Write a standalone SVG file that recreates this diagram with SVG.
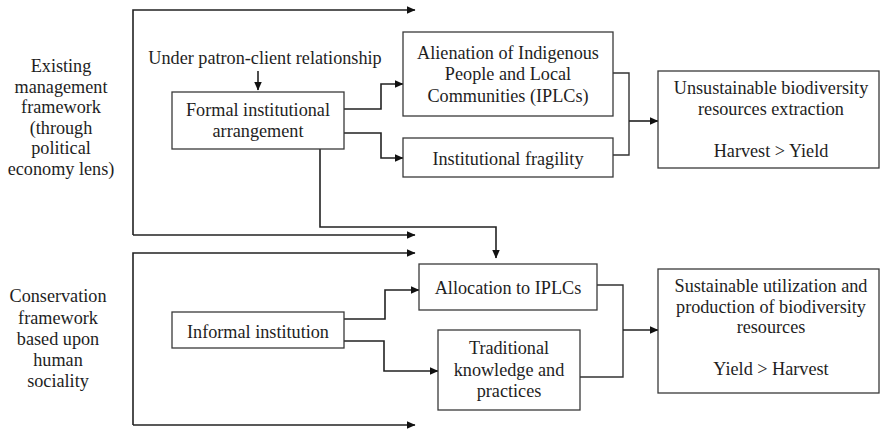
<svg xmlns="http://www.w3.org/2000/svg" width="880" height="431" viewBox="0 0 880 431">
<style>
text{font-family:'Liberation Serif','Times New Roman',serif;font-size:18.2px;fill:#1e1e1e;text-anchor:middle}
.box{fill:#fff;stroke:#3a3a3a;stroke-width:1.3}
.ln{fill:none;stroke:#333;stroke-width:1.4}
.ar{fill:none;stroke:#222;stroke-width:1.6;marker-end:url(#ah)}
</style>
<defs>
<marker id="ah" markerWidth="9" markerHeight="8" refX="8.5" refY="4" orient="auto" markerUnits="userSpaceOnUse">
<path d="M0,0 L9,4 L0,8 Z" fill="#111"/>
</marker>
</defs>
<g id="connectors">
<path class="ar" d="M133,235 V10 H415"/>
<path class="ar" d="M133,235 H415"/>
<path class="ar" d="M133,425 V253 H415"/>
<path class="ar" d="M133,425 H415"/>
<path class="ar" d="M258,71 V90"/>
<path class="ar" d="M344,109 H381 V84 H403"/>
<path class="ar" d="M344,133 H381 V158 H403"/>
<path class="ln" d="M613,73 H629 V155 H613"/>
<path class="ar" d="M629,121 H658"/>
<path class="ar" d="M320,149 V227 H496 V258"/>
<path class="ar" d="M344,319 H385 V290 H419"/>
<path class="ar" d="M344,341 H384 V371 H438"/>
<path class="ln" d="M597,285 H623 V377 H580"/>
<path class="ar" d="M623,330 H658"/>
</g>
<g id="label-existing">
<text x="61" y="72">Existing</text>
<text x="61" y="93">management</text>
<text x="61" y="113">framework</text>
<text x="61" y="134">(through</text>
<text x="61" y="154">political</text>
<text x="61" y="175">economy lens)</text>
</g>
<g id="label-patron">
<text x="265" y="64">Under patron-client relationship</text>
</g>
<g id="formal">
<rect class="box" x="172" y="92" width="172" height="57"/>
<text x="258" y="116">Formal institutional</text>
<text x="258" y="137">arrangement</text>
</g>
<g id="alienation">
<rect class="box" x="403" y="32" width="210" height="84"/>
<text x="508" y="59">Alienation of Indigenous</text>
<text x="508" y="80">People and Local</text>
<text x="508" y="102">Communities (IPLCs)</text>
</g>
<g id="fragility">
<rect class="box" x="403" y="138" width="210" height="39"/>
<text x="508" y="165">Institutional fragility</text>
</g>
<g id="unsustainable">
<rect class="box" x="658" y="71" width="221" height="97"/>
<text x="771" y="94">Unsustainable biodiversity</text>
<text x="771" y="115">resources extraction</text>
<text x="771" y="157">Harvest &gt; Yield</text>
</g>
<g id="label-conservation">
<text x="58" y="302">Conservation</text>
<text x="58" y="324">framework</text>
<text x="58" y="345">based upon</text>
<text x="58" y="366">human</text>
<text x="58" y="387">sociality</text>
</g>
<g id="informal">
<rect class="box" x="172" y="312" width="172" height="36"/>
<text x="258" y="338">Informal institution</text>
</g>
<g id="allocation">
<rect class="box" x="419" y="264" width="178" height="46"/>
<text x="508" y="294">Allocation to IPLCs</text>
</g>
<g id="traditional">
<rect class="box" x="438" y="330" width="142" height="80"/>
<text x="509" y="354">Traditional</text>
<text x="509" y="376">knowledge and</text>
<text x="509" y="397">practices</text>
</g>
<g id="sustainable">
<rect class="box" x="658" y="269" width="221" height="124"/>
<text x="771" y="292">Sustainable utilization and</text>
<text x="771" y="313">production of biodiversity</text>
<text x="771" y="333">resources</text>
<text x="771" y="375">Yield &gt; Harvest</text>
</g>
</svg>
